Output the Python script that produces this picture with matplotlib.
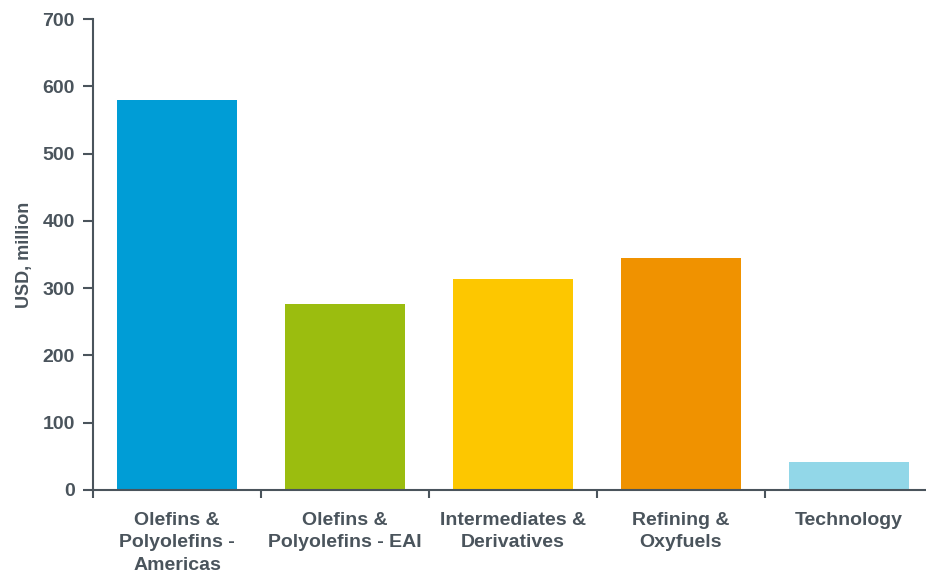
import matplotlib.pyplot as plt
import numpy as np

plt.rcParams['font.family'] = ['Liberation Sans', 'DejaVu Sans']

# segment results, USD million
segments = [
    "Olefins &\nPolyolefins -\nAmericas",
    "Olefins &\nPolyolefins - EAI",
    "Intermediates &\nDerivatives",
    "Refining &\nOxyfuels",
    "Technology",
]
values = [580, 277, 314, 345, 42]
colors = ["#009dd6", "#9bbd0f", "#fdc700", "#f09200", "#92d7e8"]

ink = "#4a545c"

fig = plt.figure(figsize=(9.26, 5.74), dpi=100)
ax = fig.add_axes([93 / 926, 1 - 490 / 574, 840 / 926, (490 - 19) / 574])

x = np.arange(len(segments))
ax.bar(x, values, width=0.714, color=colors)

ax.set_xlim(-0.5, len(segments) - 0.5)
ax.set_ylim(0, 700)
ax.set_yticks(range(0, 701, 100))

# category labels centred, ticks drawn between categories
ax.set_xticks(x)
ax.set_xticklabels(segments, fontsize=14, fontweight="bold", color=ink,
                   linespacing=1.45)
ax.set_xticks(np.arange(-0.5, len(segments)), minor=True)
ax.tick_params(axis="x", which="major", length=0, pad=15.5)
ax.tick_params(axis="x", which="minor", length=6, width=1.5, color=ink, direction="out")
ax.tick_params(axis="y", length=7, width=1.5, color=ink, pad=6,
               labelsize=14, labelcolor=ink)
for lbl in ax.get_yticklabels():
    lbl.set_fontweight("bold")

ax.set_ylabel("USD, million", fontsize=13, fontweight="bold", color=ink, labelpad=7)

for side in ("top", "right"):
    ax.spines[side].set_visible(False)
for side in ("left", "bottom"):
    ax.spines[side].set_color(ink)
    ax.spines[side].set_linewidth(1.5)

fig.savefig("out.png", dpi=100)
